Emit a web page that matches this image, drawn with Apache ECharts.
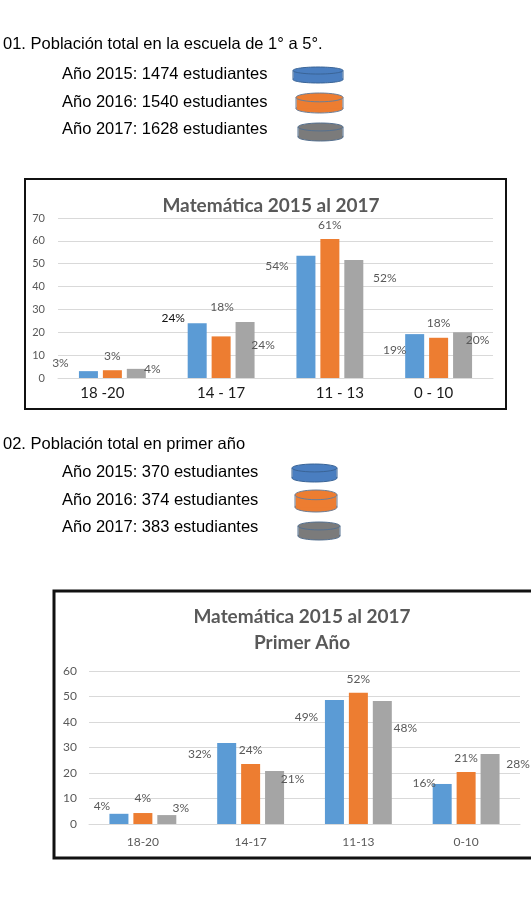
<!DOCTYPE html>
<html>
<head>
<meta charset="utf-8">
<script src="https://cdn.jsdelivr.net/npm/echarts@6/dist/echarts.min.js"></script>
<style>
  html, body { margin: 0; padding: 0; background: #fff; }
  #chart { width: 531px; height: 922px; }
</style>
</head>
<body>
<div id="chart"></div>
<script>
// datos
const rangos1 = ['18 -20', '14 - 17', '11 - 13', '0 - 10']
const rangos2 = ['18-20', '14-17', '11-13', '0-10']
const anios = ['2015', '2016', '2017']

const total2015 = [3, 24, 53.5, 19.2]
const total2016 = [3.4, 18.2, 60.8, 17.6]
const total2017 = [4, 24.5, 51.6, 20]
const etiquetas1 = [
  ['3%', '24%', '54%', '19%'],
  ['3%', '18%', '61%', '18%'],
  ['4%', '24%', '52%', '20%']
]

const primer2015 = [4, 31.8, 48.6, 15.7]
const primer2016 = [4.3, 23.5, 51.5, 20.4]
const primer2017 = [3.5, 20.8, 48.2, 27.5]
const etiquetas2 = [
  ['4%', '32%', '49%', '16%'],
  ['4%', '24%', '52%', '21%'],
  ['3%', '21%', '48%', '28%']
]

const ticks1 = { min: 0, max: 70, interval: 10 }
const ticks2 = { min: 0, max: 60, interval: 10 }

// desplazamientos de las etiquetas (movidas a mano en el original)
const desplaz1 = [
  [[-28, 3], [-24, 6], [-29, 21], [-20, 27]],
  [[0, -3], [1, -18], [0, -3], [0, -4]],
  [[16, 11], [18, 34], [31, 29], [15, 19]]
]
const desplaz2 = [
  [[-17, 3], [-27, 22], [-28, 28], [-18, 10]],
  [[0, -4], [0, -3], [0, -3], [0, -3]],
  [[14, 4], [18, 19], [23, 38], [28, 21]]
]
// corrimiento horizontal de los rótulos del primer gráfico
const padRotulos1 = [[0, 20, 0, 0], [0, 0, 0, 0], [0, 0, 0, 20], [0, 10, 0, 0]]

const colores = ['#5B9BD5', '#ED7D31', '#A5A5A5']
const fuente = 'Lato, "Open Sans", sans-serif'
const gris = '#595959'

const chart = echarts.init(document.getElementById('chart'))

const makeSeries = (values, labels, shifts, idx, axisIdx) => ({
  name: anios[idx],
  type: 'bar',
  xAxisIndex: axisIdx,
  yAxisIndex: axisIdx,
  barWidth: 19,
  barGap: '26%',
  itemStyle: { color: colores[idx] },
  data: values.map((v, i) => ({
    value: v,
    label: {
      offset: shifts[i],
      formatter: labels[i],
      color: (axisIdx === 0 && idx === 0 && i === 1) ? '#111' : gris
    }
  })),
  label: {
    show: true,
    position: 'top',
    distance: 5,
    fontSize: 12,
    fontFamily: fuente
  }
})

const texto = (x, y, t) => ({
  type: 'text',
  left: x,
  top: y,
  style: { text: t, fill: '#000', font: '16.5px "Liberation Sans", Arial, sans-serif' }
})

const cilindro = (x, y, w, h, fill, stroke) => {
  const ry = h * 0.22
  return {
    type: 'group',
    children: [
      { type: 'ellipse', shape: { cx: x + w / 2, cy: y + h - ry, rx: w / 2, ry: ry }, style: { fill: fill, stroke: stroke, lineWidth: 1 } },
      { type: 'rect', shape: { x: x + 0.5, y: y + ry, width: w - 1, height: h - 2 * ry }, style: { fill: fill } },
      { type: 'line', shape: { x1: x, y1: y + ry, x2: x, y2: y + h - ry }, style: { stroke: stroke, lineWidth: 1 } },
      { type: 'line', shape: { x1: x + w, y1: y + ry, x2: x + w, y2: y + h - ry }, style: { stroke: stroke, lineWidth: 1 } },
      { type: 'ellipse', shape: { cx: x + w / 2, cy: y + ry, rx: w / 2, ry: ry }, style: { fill: fill, stroke: stroke, lineWidth: 1 } }
    ]
  }
}

const option = {
  animation: false,
  textStyle: { fontFamily: fuente },
  title: [
    {
      text: 'Matemática 2015 al 2017',
      left: 266,
      top: 191,
      textAlign: 'center',
      textStyle: { fontSize: 19, fontWeight: 'bold', color: gris, fontFamily: fuente }
    },
    {
      text: 'Matemática 2015 al 2017\nPrimer Año',
      left: 297,
      top: 599,
      textAlign: 'center',
      textStyle: { fontSize: 19, fontWeight: 'bold', color: gris, lineHeight: 26, fontFamily: fuente }
    }
  ],
  grid: [
    { left: 58, top: 218, width: 435, height: 160 },
    { left: 89, top: 671, width: 431, height: 153 }
  ],
  xAxis: [
    {
      type: 'category',
      gridIndex: 0,
      data: rangos1.map((r, i) => ({ value: r, textStyle: { padding: padRotulos1[i] } })),
      axisLine: { lineStyle: { color: '#d9d9d9' } },
      axisTick: { show: false },
      axisLabel: { color: '#1a1a1a', fontSize: 15, margin: 8, fontFamily: fuente }
    },
    {
      type: 'category',
      gridIndex: 1,
      data: rangos2,
      axisLine: { lineStyle: { color: '#d9d9d9' } },
      axisTick: { show: false },
      axisLabel: { color: gris, fontSize: 12, margin: 12, fontFamily: fuente }
    }
  ],
  yAxis: [
    {
      type: 'value',
      gridIndex: 0,
      min: ticks1.min,
      max: ticks1.max,
      interval: ticks1.interval,
      axisLabel: { color: gris, fontSize: 11, margin: 13, fontFamily: fuente },
      splitLine: { lineStyle: { color: '#d9d9d9' } }
    },
    {
      type: 'value',
      gridIndex: 1,
      min: ticks2.min,
      max: ticks2.max,
      interval: ticks2.interval,
      axisLabel: { color: gris, fontSize: 12, margin: 12, fontFamily: fuente },
      splitLine: { lineStyle: { color: '#d9d9d9' } }
    }
  ],
  series: [
    makeSeries(total2015, etiquetas1[0], desplaz1[0], 0, 0),
    makeSeries(total2016, etiquetas1[1], desplaz1[1], 1, 0),
    makeSeries(total2017, etiquetas1[2], desplaz1[2], 2, 0),
    makeSeries(primer2015, etiquetas2[0], desplaz2[0], 0, 1),
    makeSeries(primer2016, etiquetas2[1], desplaz2[1], 1, 1),
    makeSeries(primer2017, etiquetas2[2], desplaz2[2], 2, 1)
  ],
  graphic: [
    texto(3, 36, '01. Población total en la escuela de 1° a 5°.'),
    texto(62, 66, 'Año 2015: 1474 estudiantes'),
    texto(62, 94, 'Año 2016: 1540 estudiantes'),
    texto(62, 121, 'Año 2017: 1628 estudiantes'),
    cilindro(293, 67, 50, 16, '#4A7EC0', '#3A6496'),
    cilindro(296, 93, 47, 20, '#ED7D31', '#6A7E98'),
    cilindro(298, 123, 45, 18, '#7B7B7B', '#55708F'),
    texto(3, 436, '02. Población total en primer año'),
    texto(62, 464, 'Año 2015: 370 estudiantes'),
    texto(62, 492, 'Año 2016: 374 estudiantes'),
    texto(62, 519, 'Año 2017: 383 estudiantes'),
    cilindro(292, 464, 45, 18, '#4A7EC0', '#3A6496'),
    cilindro(295, 490, 42, 22, '#ED7D31', '#6A7E98'),
    cilindro(298, 522, 42, 18, '#7B7B7B', '#55708F'),
    {
      type: 'rect',
      shape: { x: 25, y: 179, width: 481, height: 230 },
      style: { fill: 'none', stroke: '#111', lineWidth: 2 },
      z: 10
    },
    {
      type: 'rect',
      shape: { x: 54, y: 591, width: 480, height: 267 },
      style: { fill: 'none', stroke: '#111', lineWidth: 3 },
      z: 10
    }
  ]
}

chart.setOption(option)
</script>
</body>
</html>
